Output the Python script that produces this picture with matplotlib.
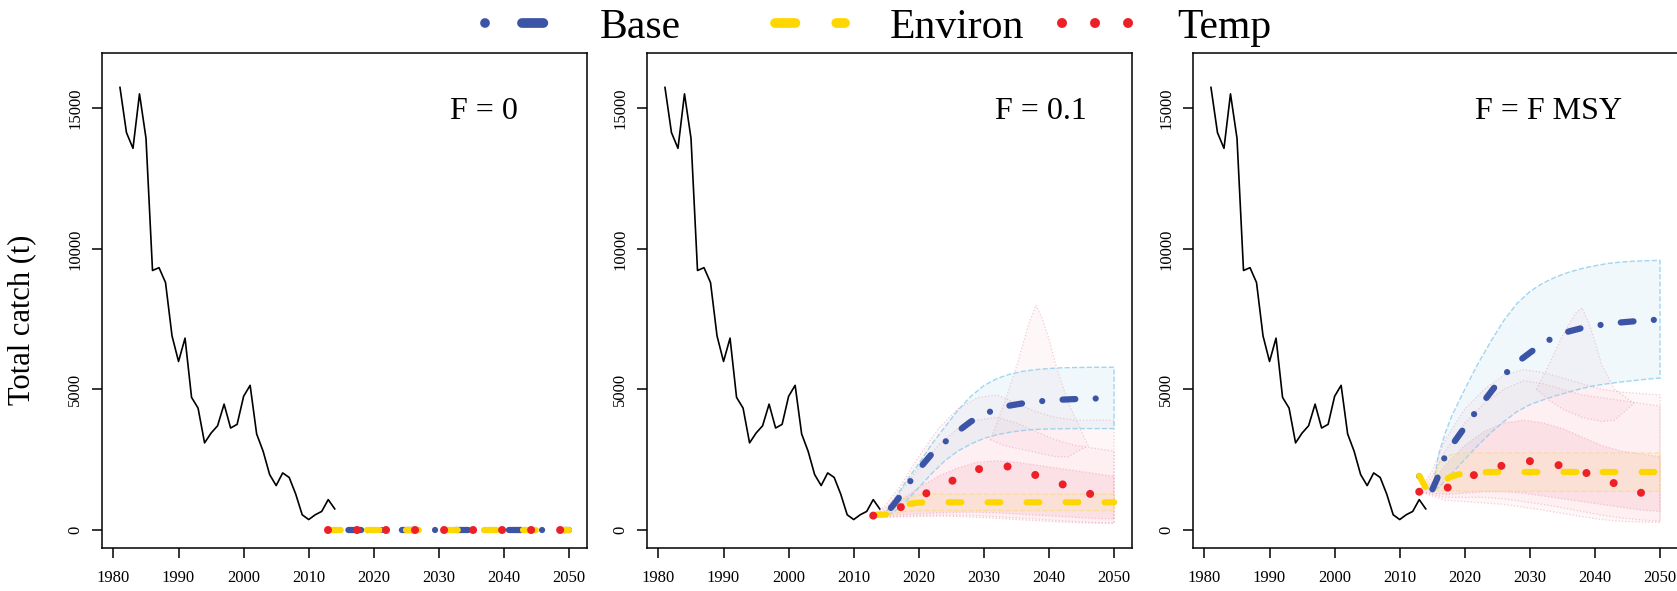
import matplotlib
matplotlib.use("Agg")
import matplotlib.pyplot as plt
from matplotlib.lines import Line2D

plt.rcParams['font.family'] = ['Liberation Serif', 'DejaVu Serif']

# observed catch
hist_years = list(range(1981, 2015))
hist_catch = [15750, 14140, 13580, 15520, 13940, 9230, 9330, 8800, 6900, 5990,
              6820, 4710, 4330, 3090, 3440, 3700, 4470, 3620, 3750, 4750,
              5140, 3410, 2790, 1960, 1570, 2020, 1860, 1270, 530, 360,
              530, 650, 1070, 740]

# projected medians
proj_years = [2013, 2014, 2015, 2016, 2017, 2018, 2020, 2022, 2024, 2026, 2028,
              2030, 2032, 2034, 2036, 2038, 2040, 2042, 2044, 2046, 2048, 2050]

base_f0 = [0, 0, 0, 0, 0, 0, 0, 0, 0, 0, 0, 0, 0, 0, 0, 0, 0, 0, 0, 0, 0, 0]
env_f0 = [0, 0, 0, 0, 0, 0, 0, 0, 0, 0, 0, 0, 0, 0, 0, 0, 0, 0, 0, 0, 0, 0]
temp_f0 = [0, 0, 0, 0, 0, 0, 0, 0, 0, 0, 0, 0, 0, 0, 0, 0, 0, 0, 0, 0, 0, 0]

base_f01 = [500, 540, 580, 850, 1150, 1500, 2150, 2700, 3120, 3500, 3850,
            4120, 4290, 4420, 4500, 4560, 4600, 4630, 4650, 4665, 4675, 4680]
env_f01 = [520, 530, 540, 650, 800, 900, 965, 975, 975, 975, 975,
           975, 975, 975, 975, 975, 975, 975, 975, 975, 975, 975]
temp_f01 = [500, 540, 600, 680, 770, 900, 1150, 1400, 1620, 1830, 2050,
            2220, 2290, 2240, 2090, 1940, 1780, 1620, 1460, 1300, 1140, 970]

base_fmsy = [1900, 1500, 1420, 1950, 2650, 3000, 3650, 4300, 4900, 5500, 5950,
             6300, 6640, 6880, 7060, 7180, 7260, 7330, 7380, 7420, 7460, 7480]
env_fmsy = [1920, 1500, 1440, 1600, 1780, 1900, 2030, 2050, 2053, 2053, 2053,
            2053, 2053, 2053, 2053, 2053, 2053, 2053, 2053, 2053, 2053, 2053]
temp_fmsy = [1350, 1380, 1400, 1410, 1450, 1580, 1810, 2000, 2150, 2300, 2400,
             2440, 2420, 2320, 2210, 2080, 1900, 1730, 1570, 1400, 1240, 1080]

# intervals for Base and Environ
base_f01_lo = [500, 520, 540, 600, 780, 1000, 1500, 2000, 2450, 2800, 3050,
               3250, 3380, 3470, 3530, 3570, 3585, 3595, 3600, 3600, 3600, 3600]
base_f01_hi = [500, 560, 620, 1000, 1350, 1700, 2350, 3050, 3650, 4250, 4750,
               5130, 5380, 5540, 5640, 5700, 5740, 5765, 5775, 5780, 5783, 5785]
env_f01_lo = [520, 520, 520, 560, 610, 650, 675, 680, 680, 680, 680,
              680, 680, 680, 680, 680, 680, 680, 680, 680, 680, 680]
env_f01_hi = [520, 540, 560, 800, 1000, 1120, 1240, 1270, 1270, 1270, 1270,
              1270, 1270, 1270, 1270, 1270, 1270, 1270, 1270, 1270, 1270, 1270]

base_fmsy_lo = [1900, 1500, 1420, 1500, 1750, 2000, 2500, 3000, 3450, 3850, 4200,
                4450, 4620, 4770, 4900, 5030, 5130, 5200, 5260, 5310, 5360, 5400]
base_fmsy_hi = [1900, 1500, 1420, 2700, 3450, 4050, 5000, 5900, 6700, 7450, 8050,
                8480, 8780, 9000, 9170, 9300, 9400, 9480, 9530, 9560, 9580, 9590]
env_fmsy_lo = [1920, 1500, 1420, 1400, 1390, 1380, 1370, 1365, 1365, 1365, 1365,
               1365, 1365, 1365, 1365, 1365, 1365, 1365, 1365, 1365, 1365, 1365]
env_fmsy_hi = [1920, 1500, 1500, 2350, 2550, 2680, 2730, 2730, 2730, 2730, 2730,
               2730, 2730, 2730, 2730, 2730, 2730, 2730, 2730, 2730, 2730, 2730]

# Temp runs intervals
pink_years = [2013, 2015, 2017, 2020, 2023, 2026, 2029, 2032, 2035, 2038, 2041, 2044, 2047, 2050]
spike_years = [2031, 2033, 2035, 2036, 2037, 2038, 2039, 2040, 2041, 2043, 2046]

temp_f01_core_lo = [480, 480, 520, 560, 600, 620, 620, 600, 560, 520, 480, 440, 400, 380]
temp_f01_core_hi = [520, 700, 1000, 1500, 1900, 2200, 2400, 2450, 2400, 2300, 2200, 2100, 2000, 1900]
temp_f01_mid_lo = [480, 460, 470, 500, 520, 520, 500, 460, 420, 380, 330, 290, 260, 240]
temp_f01_mid_hi = [520, 800, 1300, 2200, 3000, 3600, 3900, 4000, 3800, 3500, 3200, 3000, 2900, 2800]
temp_f01_wide_lo = [480, 450, 450, 470, 480, 470, 440, 400, 360, 320, 280, 250, 230, 220]
temp_f01_wide_hi = [520, 900, 1500, 2600, 3600, 4300, 4700, 4800, 4500, 4200, 4000, 3900, 3900, 3900]
temp_f01_spike_lo = [3200, 3000, 2900, 2850, 2800, 2750, 2700, 2650, 2600, 2600, 3000]
temp_f01_spike_hi = [3200, 4400, 5800, 6600, 7400, 8000, 7500, 6800, 5900, 4500, 3000]

temp_fmsy_core_lo = [1350, 1300, 1250, 1300, 1350, 1350, 1300, 1200, 1100, 1000, 900, 800, 700, 650]
temp_fmsy_core_hi = [1350, 1700, 2300, 3000, 3500, 3800, 3900, 3800, 3600, 3300, 3000, 2800, 2700, 2600]
temp_fmsy_mid_lo = [1350, 1250, 1150, 1150, 1150, 1100, 1000, 900, 780, 650, 520, 420, 350, 300]
temp_fmsy_mid_hi = [1350, 1900, 2800, 3800, 4500, 5000, 5300, 5200, 5000, 4800, 4700, 4600, 4500, 4400]
temp_fmsy_wide_lo = [1350, 1200, 1050, 1000, 950, 900, 800, 700, 580, 460, 360, 300, 270, 260]
temp_fmsy_wide_hi = [1350, 2100, 3200, 4300, 5000, 5500, 5700, 5600, 5400, 5200, 5000, 4900, 4850, 4800]
temp_fmsy_spike_lo = [5000, 4600, 4300, 4200, 4100, 4000, 3950, 3900, 3850, 3900, 4500]
temp_fmsy_spike_hi = [5000, 5900, 6900, 7300, 7700, 7900, 7400, 6700, 5900, 5000, 4500]

panel_titles = ["F = 0", "F = 0.1", "F = F MSY"]
legend_names = ["Base", "Environ", "Temp"]

BLUE = '#3B54A5'
YELLOW = '#FFD700'
RED = '#EE2027'

BLUE_DASH = (0.002, 3.26, 2.04, 3.26)
YELLOW_DASH = (2.04, 4.2)
RED_DASH = (0.002, 3.6)


def band(ax, x, lo, hi, face, edge, ls, lw=1.0):
    xs = list(x) + list(x)[::-1]
    ys = list(lo) + list(hi)[::-1]
    ax.fill(xs, ys, facecolor=face, edgecolor=edge, linestyle=ls, linewidth=lw)


fig = plt.figure(figsize=(16.77, 5.91), dpi=100)
W, H = 1677.0, 591.0
lefts = [102, 647, 1193]
axes = [fig.add_axes([l / W, 1 - 548 / H, 485 / W, 495 / H]) for l in lefts]

pink_light = (0.957, 0.655, 0.725, 0.09)
pink_core = (0.957, 0.655, 0.725, 0.2)
pink_edge = (0.93, 0.55, 0.65, 0.45)

pink_sets = [
    [],
    [(pink_years, temp_f01_wide_lo, temp_f01_wide_hi, pink_light),
     (pink_years, temp_f01_mid_lo, temp_f01_mid_hi, pink_light),
     (pink_years, temp_f01_core_lo, temp_f01_core_hi, pink_core),
     (spike_years, temp_f01_spike_lo, temp_f01_spike_hi, pink_light)],
    [(pink_years, temp_fmsy_wide_lo, temp_fmsy_wide_hi, pink_light),
     (pink_years, temp_fmsy_mid_lo, temp_fmsy_mid_hi, pink_light),
     (pink_years, temp_fmsy_core_lo, temp_fmsy_core_hi, pink_core),
     (spike_years, temp_fmsy_spike_lo, temp_fmsy_spike_hi, pink_light)],
]
blue_bands = [None, (base_f01_lo, base_f01_hi), (base_fmsy_lo, base_fmsy_hi)]
env_bands = [None, (env_f01_lo, env_f01_hi), (env_fmsy_lo, env_fmsy_hi)]
medians = [(base_f0, env_f0, temp_f0), (base_f01, env_f01, temp_f01),
           (base_fmsy, env_fmsy, temp_fmsy)]
title_x = [2037, 2038.8, 2032.8]

for i, ax in enumerate(axes):
    for xs, lo, hi, face in pink_sets[i]:
        band(ax, xs, lo, hi, face, pink_edge, ':', 0.9)
    if blue_bands[i] is not None:
        band(ax, proj_years, blue_bands[i][0], blue_bands[i][1],
             (0.68, 0.85, 0.93, 0.18), (0.55, 0.80, 0.93, 0.8), '--', 1.0)
    if env_bands[i] is not None:
        band(ax, proj_years, env_bands[i][0], env_bands[i][1],
             (1.0, 0.92, 0.45, 0.14), (0.98, 0.86, 0.45, 0.6), '--', 1.0)

    ax.plot(hist_years, hist_catch, color='black', lw=1.2)
    b, e, t = medians[i]
    ax.plot(proj_years, b, color=BLUE, lw=4.5, dashes=BLUE_DASH, dash_capstyle='round')
    ax.plot(proj_years, e, color=YELLOW, lw=4.5, dashes=YELLOW_DASH, dash_capstyle='round')
    ax.plot(proj_years, t, color=RED, lw=5.8, dashes=RED_DASH, dash_capstyle='round')

    ax.text(title_x[i], 14900, panel_titles[i], fontsize=23, ha='center', va='center')

    ax.set_xlim(1978.24, 2052.76)
    ax.set_ylim(-653, 16975)
    ax.set_xticks([1980, 1990, 2000, 2010, 2020, 2030, 2040, 2050])
    ax.set_yticks([0, 5000, 10000, 15000])
    ax.tick_params(axis='both', direction='out', length=7.5, width=1.1, labelsize=12)
    ax.tick_params(axis='x', pad=8.5)
    ax.tick_params(axis='y', pad=6)
    for lab in ax.get_yticklabels():
        lab.set_rotation(90)
        lab.set_va('center')
    for sp in ax.spines.values():
        sp.set_linewidth(1.1)

fig.text(22 / W, 1 - 320 / H, "Total catch (t)", rotation=90, fontsize=22,
         ha='center', va='center')

# legend, three columns of equal width
leg_styles = [(BLUE, (0.002, 3.8, 2.2, 3.8), 7), (YELLOW, (2.1, 4.2), 7), (RED, (0.002, 3.3), 7.2)]
leg_x = [485, 775, 1062]
for name, (col, dsh, lw), x0 in zip(legend_names, leg_styles, leg_x):
    h = Line2D([], [], color=col, lw=lw, dashes=dsh, dash_capstyle='round')
    fig.legend([h], [name], loc='center left', bbox_to_anchor=(x0 / W, 1 - 27.5 / H),
               frameon=False, fontsize=30, handlelength=1.68, handletextpad=1.08,
               borderpad=0, borderaxespad=0)

fig.savefig("out.png", dpi=100)
